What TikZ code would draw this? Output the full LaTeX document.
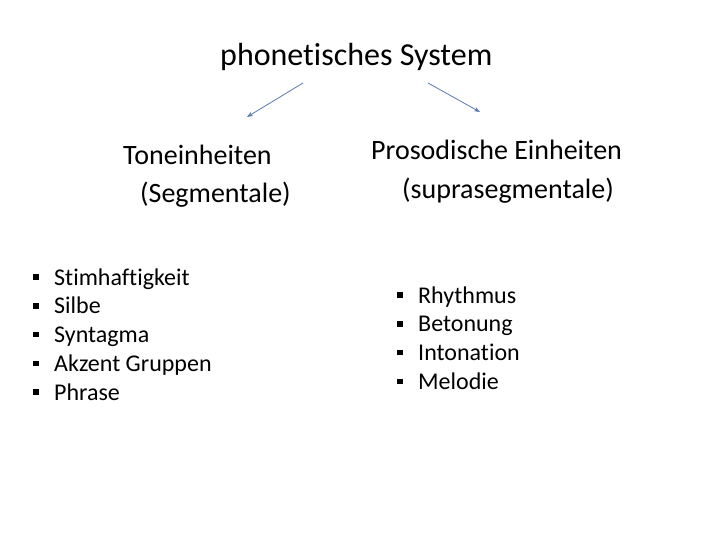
\documentclass[tikz,border=0pt]{standalone}
\usepackage{fontspec}
\setmainfont{Carlito}[Ligatures=NoCommon]
\usetikzlibrary{arrows.meta}
\definecolor{arr}{HTML}{5B7AB0}
\tikzset{
  lbl/.style={inner sep=0pt, anchor=base west},
  head/.style={lbl, font=\fontsize{28}{32}\selectfont},
  itm/.style={inner sep=0pt, anchor=base west, font=\fontsize{24}{28}\selectfont},
  sq/.style={fill=black, minimum size=5.5pt, inner sep=0pt},
  conn/.style={draw=arr, line width=0.8pt, -{Stealth[length=6pt,width=4.5pt]}}
}
\begin{document}
\begin{tikzpicture}[x=1pt,y=-1pt]
\useasboundingbox[fill=white] (0,0) rectangle (720,540);
\node[lbl, font=\fontsize{32}{36}\selectfont] (title) at (220,66) {phonetisches System};
\node[head] (ton) at (123,165) {Toneinheiten};
\node[head] (seg) at (140,203) {(Segmentale)};
\node[head] (pros) at (371,160) {Prosodische Einheiten};
\node[head] (supra) at (402,199) {(suprasegmentale)};
\coordinate (a1s) at (303,83); \coordinate (a1e) at (247,117);
\coordinate (a2s) at (428,83); \coordinate (a2e) at (480,112);
\draw[conn] (a1s) -- (a1e);
\draw[conn] (a2s) -- (a2e);
\foreach \t [count=\i] in {Stimhaftigkeit,Silbe,Syntagma,Akzent Gruppen,Phrase}{
  \node[sq] (lb\i) at (36,{277+(\i-1)*28.75}) {};
  \node[itm] (lt\i) at (54,{285+(\i-1)*28.75}) {\t};
}
\foreach \t [count=\i] in {Rhythmus,Betonung,Intonation,Melodie}{
  \node[sq] (rb\i) at (400,{295+(\i-1)*28.75}) {};
  \node[itm] (rt\i) at (418,{303+(\i-1)*28.75}) {\t};
}
\end{tikzpicture}
\end{document}
